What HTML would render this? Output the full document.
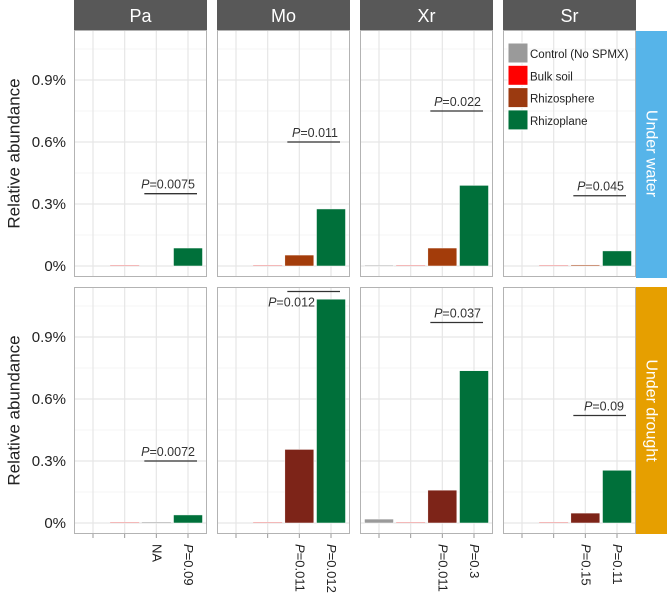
<!DOCTYPE html>
<html><head><meta charset="utf-8"><style>
body{margin:0;background:#fff;}
svg{display:block;font-family:"Liberation Sans",sans-serif;}
</style></head><body>
<svg id="c" width="667" height="598" viewBox="0 0 667 598"></svg>
<script>
const sites = ["Pa","Mo","Xr","Sr"];
const conditions = ["Under water","Under drought"];
const groups = ["Control (No SPMX)","Bulk soil","Rhizosphere","Rhizoplane"];
const waterValues = [[0,0.001,0,0.087],[0,0.001,0.053,0.276],[0.003,0.001,0.087,0.39],[0,0.001,0.005,0.073]];
const droughtValues = [[0,0.001,0.001,0.039],[0,0.001,0.356,1.083],[0.019,0.001,0.159,0.737],[0,0.001,0.048,0.255]];
const waterPLabels = ["P=0.0075","P=0.011","P=0.022","P=0.045"];
const droughtPLabels = ["P=0.0072","P=0.012","P=0.037","P=0.09"];
const sigWaterY = [0.35,0.6,0.75,0.34];
const sigDroughtY = [0.3,1.12,0.97,0.52];
const tickLabels = [["","","NA","P=0.09"],["","","P=0.011","P=0.012"],["","","P=0.011","P=0.3"],["","","P=0.15","P=0.11"]];
const yTicks = [0,0.3,0.6,0.9];
const yTickLabels = ["0%","0.3%","0.6%","0.9%"];

const NS="http://www.w3.org/2000/svg";
const svg=document.getElementById('c');
function mk(tag,attrs,parent){const e=document.createElementNS(NS,tag);for(const k in attrs)e.setAttribute(k,attrs[k]);(parent||svg).appendChild(e);return e;}
const panelX=[74,217,360,503], PW=133;
const rowTop=[30,287], PH=247;
const zeroY=[266,523];
const pxPerUnit=62/0.3;
function yScale(r,v){return zeroY[r]-v*pxPerUnit;}
function xScale(p,i){return panelX[p]+PW*(i+0.6)/4.2;}
const fillFor=[["#9a9a9a","#ff0000","#a33c0a","#00703a"],["#9a9a9a","#ff0000","#7d2418","#00703a"]];

// headers
sites.forEach((s,p)=>{
  const h=mk('rect',{x:panelX[p],y:0,width:PW,height:30,fill:'#585858'});
  
  
  const t=mk('text',{x:panelX[p]+PW/2,y:22,'text-anchor':'middle','font-size':18,fill:'#fff'});
  t.textContent=s;
  
  
});
// strips
const stripCol=["#56b4e9","#e69f00"];
conditions.forEach((c,r)=>{
  const s=mk('rect',{x:636,y:rowTop[r]+(r==0?1:0),width:31,height:PH,fill:stripCol[r]});
  
  
  const cy=rowTop[r]+PH/2;
  const t=mk('text',{x:651,y:cy,'text-anchor':'middle','font-size':16,fill:'#fff',transform:`rotate(90 651 ${cy})`,'dominant-baseline':'central'});
  t.textContent=c;
  
  
  // y title
  const yt=mk('text',{x:14,y:cy,'text-anchor':'middle','font-size':17,fill:'#222',transform:`rotate(-90 14 ${cy})`,'dominant-baseline':'central'});
  yt.textContent='Relative abundance';
  
  
  yTicks.forEach((v,i)=>{
    const l=mk('text',{x:66,y:yScale(r,v)+5,'text-anchor':'end','font-size':15,fill:'#222'});
    l.textContent=yTickLabels[i];
    
    
  });
});
// panels
sites.forEach((s,p)=>{
  [waterValues,droughtValues].forEach((vals,r)=>{
    const g=mk('g',{});
    
    
    mk('rect',{x:panelX[p],y:rowTop[r],width:PW,height:PH,fill:'#fff'},g);
    for(let v=-0.15;v<=1.2;v+=0.15){const y=yScale(r,v);if(y<rowTop[r]||y>rowTop[r]+PH)continue;
      const major=Math.abs((v/0.3)-Math.round(v/0.3))<0.01;
      mk('line',{x1:panelX[p],x2:panelX[p]+PW,y1:y,y2:y,stroke:major?'#e6e6e6':'#f2f2f2','stroke-width':major?1.2:0.8},g);}
    for(let i=0;i<4;i++){const x=xScale(p,i);mk('line',{x1:x,x2:x,y1:rowTop[r],y2:rowTop[r]+PH,stroke:'#e6e6e6','stroke-width':1.2},g);}
    vals[p].forEach((v,i)=>{
      if(v<=0)return;
      const x=xScale(p,i);
      const y0=yScale(r,0), y1=yScale(r,v);
      const small=v<=0.002;
      const b=mk('rect',{x:x-14.5,y:small?y0-1:y1,width:29,height:small?1:Math.max(1,y0-y1),fill:small&&i==1?'#f4b8b8':(small?'#c8c8c8':fillFor[r][i]),stroke:small?'none':'#fff','stroke-width':0.5},g);
      
      
    });
    mk('rect',{x:panelX[p]+0.5,y:rowTop[r]+0.5,width:PW-1,height:PH-1,fill:'none',stroke:'#b3b3b3','stroke-width':1},g);
    // significance
    const sy=yScale(r,(r==0?sigWaterY:sigDroughtY)[p]);
    const xa=xScale(p,2)-12, xb=xScale(p,3)+9;
    mk('line',{x1:xa,x2:xb,y1:sy,y2:sy,stroke:'#333','stroke-width':1.3},g);
    const lab=(r==0?waterPLabels:droughtPLabels)[p];
    let tx=xb-2, ty=sy-5, anchor='end';
    if(r==1&&p==1){tx=xScale(p,3)-16;ty=sy+15;}
    const t=mk('text',{x:tx,y:ty,'text-anchor':anchor,'font-size':12.5,fill:'#333'},g);
    const ti=mk('tspan',{'font-style':'italic'},t);ti.textContent='P';
    const tr=mk('tspan',{},t);tr.textContent=lab.slice(1);
    
    
  });
  // x ticks
  for(let i=0;i<4;i++){
    const x=xScale(p,i);
    mk('line',{x1:x,x2:x,y1:534,y2:538,stroke:'#999'});
    const lab=tickLabels[p][i]; if(!lab)continue;
    const t=mk('text',{x:x-4,y:544,'font-size':13,fill:'#222',transform:`rotate(90 ${x-4} 544)`});
    if(lab.startsWith('P')){const a=mk('tspan',{'font-style':'italic'},t);a.textContent='P';const b=mk('tspan',{},t);b.textContent=lab.slice(1);}
    else t.textContent=lab;
    
    
  }
});
// legend
const lg=mk('g',{});


const legCols=["#9a9a9a","#ff0000","#9b3a10","#00703a"];
groups.forEach((gname,i)=>{
  const y=43+i*22.3;
  const k=mk('rect',{x:508,y:y,width:20,height:20,fill:legCols[i],stroke:'#fff'},lg);
  
  
  const t=mk('text',{x:530,y:y+15,'font-size':11.5,fill:'#222'},lg);
  t.textContent=gname;
  
  
});
</script>
</body></html>
